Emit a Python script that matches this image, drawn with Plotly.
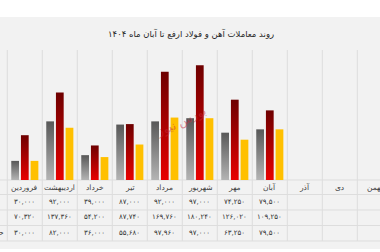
import plotly.graph_objects as go

months = ["فروردین", "اردیبهشت", "خرداد", "تیر", "مرداد", "شهریور",
          "مهر", "آبان", "آذر", "دی", "بهمن", "اسفند"]
data_months = months[:8]
series1 = [30000, 92000, 39000, 87000, 92000, 97000, 74250, 79500]
series2 = [70320, 137360, 54200, 87740, 169760, 180240, 126020, 109250]
series3 = [30000, 82000, 36000, 55680, 97960, 97000, 63250, 79500]
row3_label = "حجم معاملات"
title_text = "روند معاملات آهن و فولاد ارفع تا آبان ماه ۱۴۰۴"
watermark = "بورس نیوز"

FA = str.maketrans("0123456789", "۰۱۲۳۴۵۶۷۸۹")
def fa(n):
    return f"{n:,}".translate(FA)

FONT = "DejaVu Sans"
H_PLOT_TOP, H_BASE, H = 50, 180, 252
PH = H_BASE - H_PLOT_TOP
def py(p):  # pixel row -> paper y
    return (H_BASE - p) / PH

fig = go.Figure()
colors = ["#8c8c8c", "#a00000", "#ffc000"]
for vals, c in zip([series1, series2, series3], colors):
    fig.add_trace(go.Bar(x=data_months, y=vals, marker=dict(color=c, line=dict(width=0)),
                         hoverinfo="skip"))

GRID = "#dddddd"
shapes = []
shapes.append(dict(type="rect", xref="paper", yref="paper", x0=-0.1, x1=1.1,
                   y0=py(249), y1=py(17), fillcolor="#f2f2f2", line=dict(width=0), layer="below"))
for i in range(13):
    shapes.append(dict(type="line", xref="x", yref="paper", x0=i - 0.5, x1=i - 0.5,
                       y0=py(241), y1=1, line=dict(color=GRID, width=1), layer="below"))
for p in [180, 194.5, 210, 225.5, 241]:
    shapes.append(dict(type="line", xref="paper", yref="paper", x0=0, x1=1,
                       y0=py(p), y1=py(p), line=dict(color=GRID, width=1), layer="below"))

annotations = []
annotations.append(dict(text=title_text, xref="paper", yref="paper", x=0.503, y=py(33),
                        yanchor="middle", showarrow=False,
                        font=dict(family=FONT, size=8.5, color="#262626")))
for i, m in enumerate(months):
    annotations.append(dict(text=m, xref="x", yref="paper", x=i, y=py(187), yanchor="middle",
                            showarrow=False, font=dict(family=FONT, size=7.5, color="#404040")))
rows_y = [202, 217.5, 233]
for r, vals in enumerate([series1, series2, series3]):
    for i, v in enumerate(vals):
        annotations.append(dict(text=fa(v), xref="x", yref="paper", x=i, y=py(rows_y[r]),
                                yanchor="middle", showarrow=False,
                                font=dict(family=FONT, size=7, color="#333333")))
annotations.append(dict(text=row3_label, xref="x", yref="paper", x=-0.53, xanchor="right",
                        y=py(233), yanchor="middle", showarrow=False,
                        font=dict(family=FONT, size=7, color="#333333")))
annotations.append(dict(text=watermark, xref="x", yref="paper", x=4.45, y=py(122), yanchor="middle",
                        showarrow=False, textangle=-25, opacity=0.5,
                        font=dict(family="DejaVu Serif", size=12, color="#c8283c")))

fig.update_layout(
    width=380, height=H, autosize=False,
    margin=dict(l=0, r=0, t=H_PLOT_TOP, b=H - H_BASE, pad=0),
    paper_bgcolor="white", plot_bgcolor="rgba(0,0,0,0)",
    barmode="group", bargap=0.17, bargroupgap=0.2,
    showlegend=False,
    xaxis=dict(type="category", categoryorder="array", categoryarray=months,
               range=[-0.709, 10.149], showticklabels=False, showgrid=False,
               zeroline=False, showline=False, fixedrange=True),
    yaxis=dict(range=[0, 204000], visible=False, fixedrange=True),
    shapes=shapes, annotations=annotations,
)

post = """
var gd = document.getElementById('{plot_id}');
function applyGrad(){
  var svg = gd.querySelector('svg.main-svg');
  if(!svg) return;
  var ns = 'http://www.w3.org/2000/svg';
  var defs = svg.querySelector('defs');
  if(!defs){ defs = document.createElementNS(ns,'defs'); svg.insertBefore(defs, svg.firstChild); }
  var grads = {0:['#585858','#b4b4b4'], 1:['#6e0000','#e80000']};
  for (var k in grads){
    if(!document.getElementById('bgrad'+k)){
      var lg = document.createElementNS(ns,'linearGradient');
      lg.setAttribute('id','bgrad'+k);
      lg.setAttribute('x1','0'); lg.setAttribute('y1','0');
      lg.setAttribute('x2','0'); lg.setAttribute('y2','1');
      [[0,grads[k][0]],[1,grads[k][1]]].forEach(function(s){
        var st = document.createElementNS(ns,'stop');
        st.setAttribute('offset', s[0]); st.setAttribute('stop-color', s[1]);
        lg.appendChild(st);
      });
      defs.appendChild(lg);
    }
  }
  var traces = gd.querySelectorAll('g.barlayer g.trace.bars');
  traces.forEach(function(t,i){
    if(grads[i]) t.querySelectorAll('path').forEach(function(p){ p.style.fill = 'url(#bgrad'+i+')'; });
  });
}
applyGrad();
gd.on('plotly_afterplot', applyGrad);
"""

fig.write_html("out.html", post_script=post, config={"displayModeBar": False})
